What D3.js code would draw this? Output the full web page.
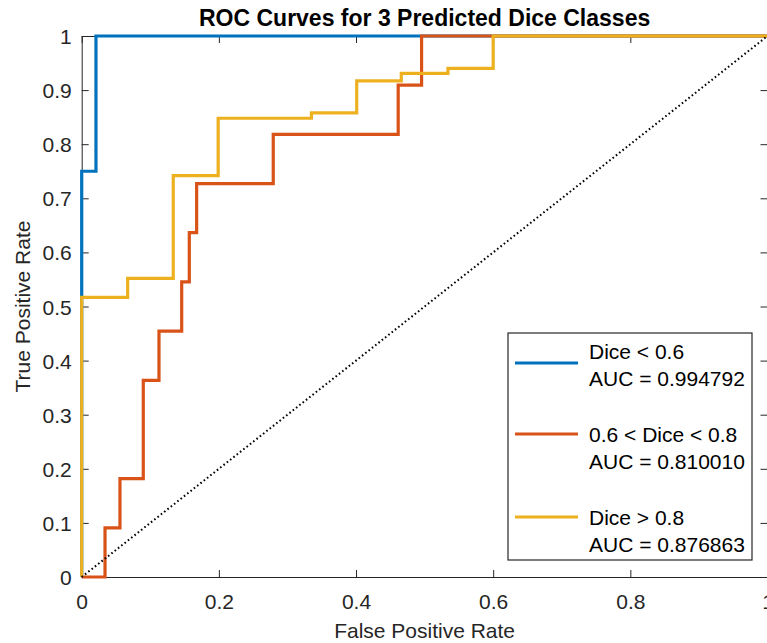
<!DOCTYPE html>
<html>
<head>
<meta charset="utf-8">
<script src="https://cdn.jsdelivr.net/npm/d3@7"></script>
<style>
  html, body { margin: 0; padding: 0; background: #fff; }
  svg { display: block; font-family: "Liberation Sans", Arial, Helvetica, sans-serif; }
</style>
</head>
<body>
<svg id="chart" width="767" height="643"></svg>
<script>
// ROC points (fpr, tpr) at each threshold
const blueFpr = [0, 0, 0.0208, 1];
const blueTpr = [0, 0.75, 1, 1];

const redFpr = [0, 0.034, 0.0558, 0.0898, 0.1127, 0.1458, 0.1569, 0.1676, 0.2793, 0.4615, 0.4956, 1];
const redTpr = [0, 0.0909, 0.1818, 0.3636, 0.4545, 0.5455, 0.6364, 0.7273, 0.8182, 0.9091, 1, 1];

const yellowFpr = [0, 0, 0.067, 0.1335, 0.199, 0.335, 0.401, 0.466, 0.534, 0.6, 1];
const yellowTpr = [0, 0.517, 0.552, 0.742, 0.848, 0.858, 0.917, 0.931, 0.94, 1, 1];

const seriesNames = ["Dice < 0.6", "0.6 < Dice < 0.8", "Dice > 0.8"];
const aucValues = ["0.994792", "0.810010", "0.876863"];
const seriesColors = ["#0072BD", "#D95319", "#EDB120"];

const xTicks = [0, 0.2, 0.4, 0.6, 0.8, 1];
const yTicks = [0, 0.1, 0.2, 0.3, 0.4, 0.5, 0.6, 0.7, 0.8, 0.9, 1];

const chanceLine = [[0, 0], [1, 1]];

const svg = d3.select("#chart");
const axisColor = "#262626";

const plot = { left: 81.7, right: 767.5, top: 36, bottom: 577 };

const x = d3.scaleLinear().domain([0, 1]).range([plot.left, plot.right]);
const y = d3.scaleLinear().domain([0, 1]).range([plot.bottom, plot.top]);

const fmt = (d) => (d === 0 || d === 1 ? String(d) : d3.format(".1f")(d));

function styleAxis(g) {
  g.selectAll(".domain").attr("stroke", axisColor).attr("stroke-width", 1);
  g.selectAll(".tick line").attr("stroke", axisColor);
  g.selectAll(".tick text")
    .attr("fill", axisColor)
    .style("font-size", "21px")
    .style("font-family", "\"Liberation Sans\", Arial, sans-serif");
}

// box axes, ticks pointing inwards
svg.append("g")
  .attr("transform", `translate(0,${plot.bottom})`)
  .call(d3.axisBottom(x).tickValues(xTicks).tickFormat(fmt).tickSizeInner(-7).tickSizeOuter(0).tickPadding(17))
  .call(styleAxis);

svg.append("g")
  .attr("transform", `translate(${plot.left},0)`)
  .call(d3.axisLeft(y).tickValues(yTicks).tickFormat(fmt).tickSizeInner(-7).tickSizeOuter(0).tickPadding(10))
  .call(styleAxis)
  .selectAll(".tick text").attr("dy", "0.36em");

svg.append("g")
  .attr("transform", `translate(0,${plot.top})`)
  .call(d3.axisTop(x).tickValues(xTicks).tickFormat("").tickSizeInner(-7).tickSizeOuter(0))
  .call(styleAxis);

svg.append("g")
  .attr("transform", `translate(${plot.right},0)`)
  .call(d3.axisRight(y).tickValues(yTicks).tickFormat("").tickSizeInner(-7).tickSizeOuter(0))
  .call(styleAxis);

// curves
const line = d3.line()
  .x((d) => x(d[0]))
  .y((d) => y(d[1]))
  .curve(d3.curveStepAfter);

const series = [
  d3.zip(blueFpr, blueTpr),
  d3.zip(redFpr, redTpr),
  d3.zip(yellowFpr, yellowTpr),
];

svg.append("g")
  .selectAll("path")
  .data(series)
  .join("path")
  .attr("d", line)
  .attr("fill", "none")
  .attr("stroke", (_, i) => seriesColors[i])
  .attr("stroke-width", 3.2)
  .attr("stroke-linejoin", "miter");

svg.append("path")
  .attr("d", d3.line().x((d) => x(d[0])).y((d) => y(d[1]))(chanceLine))
  .attr("fill", "none")
  .attr("stroke", "#000")
  .attr("stroke-width", 2)
  .attr("stroke-dasharray", "1.6,2.6");

// title and axis labels
svg.append("text")
  .attr("x", (plot.left + plot.right) / 2)
  .attr("y", 26)
  .attr("text-anchor", "middle")
  .attr("fill", "#000")
  .style("font-size", "23px")
  .style("font-weight", "bold")
  .text("ROC Curves for 3 Predicted Dice Classes");

svg.append("text")
  .attr("x", (plot.left + plot.right) / 2)
  .attr("y", 638)
  .attr("text-anchor", "middle")
  .attr("fill", axisColor)
  .style("font-size", "21px")
  .text("False Positive Rate");

svg.append("text")
  .attr("transform", `translate(30,${(plot.top + plot.bottom) / 2}) rotate(-90)`)
  .attr("text-anchor", "middle")
  .attr("fill", axisColor)
  .style("font-size", "21px")
  .text("True Positive Rate");

// legend
const legend = { x: 508, y: 333, w: 244, h: 227 };
const entryTextY = [359, 442, 525];
const entryLineY = [363, 434, 517];

const lg = svg.append("g");
lg.append("rect")
  .attr("x", legend.x)
  .attr("y", legend.y)
  .attr("width", legend.w)
  .attr("height", legend.h)
  .attr("fill", "#fff")
  .attr("stroke", axisColor)
  .attr("stroke-width", 1.2);

const entries = lg.selectAll("g.entry")
  .data(seriesNames)
  .join("g")
  .attr("class", "entry");

entries.append("line")
  .attr("x1", 515)
  .attr("x2", 578)
  .attr("y1", (_, i) => entryLineY[i])
  .attr("y2", (_, i) => entryLineY[i])
  .attr("stroke", (_, i) => seriesColors[i])
  .attr("stroke-width", 3.2);

entries.append("text")
  .attr("x", 589)
  .attr("y", (_, i) => entryTextY[i])
  .attr("fill", "#000")
  .style("font-size", "21px")
  .text((d) => d);

entries.append("text")
  .attr("x", 589)
  .attr("y", (_, i) => entryTextY[i] + 27)
  .attr("fill", "#000")
  .style("font-size", "21px")
  .text((_, i) => `AUC = ${aucValues[i]}`);
</script>
</body>
</html>
